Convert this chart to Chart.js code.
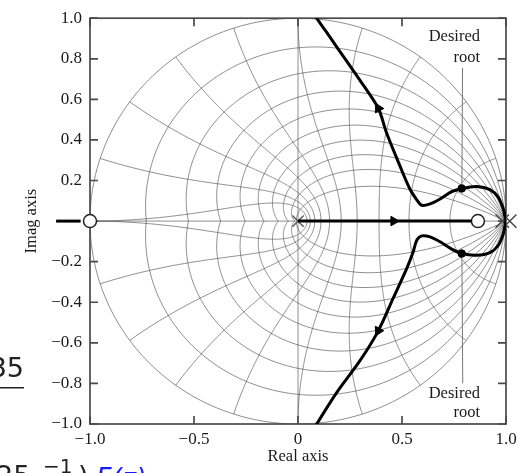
<!DOCTYPE html>
<html>
<head>
<meta charset="utf-8">
<script src="https://cdn.jsdelivr.net/npm/chart.js@4/dist/chart.umd.min.js"></script>
<style>
html,body{margin:0;padding:0;background:#fff;}
#wrap{width:522px;height:473px;position:relative;}
</style>
</head>
<body>
<div id="wrap"><canvas id="c" width="522" height="473"></canvas></div>
<script>
// ---- tick labels ----
const xTickValues = [-1, -0.5, 0, 0.5, 1];
const xTickLabels = ['\u22121.0', '\u22120.5', '0', '0.5', '1.0'];
const yTickValues = [-1, -0.8, -0.6, -0.4, -0.2, 0, 0.2, 0.4, 0.6, 0.8, 1];
const yTickLabels = ['\u22121.0', '\u22120.8', '\u22120.6', '\u22120.4', '\u22120.2', '', '0.2', '0.4', '0.6', '0.8', '1.0'];

// ---- z-plane grid parameters (damping ratios, natural frequency * T / pi) ----
const gridZeta = [0.1, 0.2, 0.3, 0.4, 0.5, 0.6, 0.7, 0.8, 0.9];
const gridWnTOverPi = [0.1, 0.2, 0.3, 0.4, 0.5, 0.6, 0.7, 0.8, 0.9, 1.0];

// ---- root locus branches ----
const upperX = [1.0, 0.987, 0.963, 0.923, 0.859, 0.787, 0.739, 0.683, 0.635, 0.595, 0.571, 0.538, 0.490, 0.426, 0.386, 0.298, 0.186, 0.138, 0.09, 0.075];
const upperY = [0.0, 0.060, 0.117, 0.155, 0.171, 0.161, 0.145, 0.109, 0.085, 0.078, 0.105, 0.158, 0.272, 0.434, 0.556, 0.694, 0.859, 0.930, 1.0, 1.03];
const lowerX = [1.0, 0.987, 0.963, 0.923, 0.859, 0.787, 0.739, 0.683, 0.635, 0.595, 0.571, 0.554, 0.523, 0.458, 0.386, 0.298, 0.186, 0.09, 0.075];
const lowerY = [0.0, -0.062, -0.119, -0.155, -0.168, -0.160, -0.138, -0.102, -0.078, -0.073, -0.094, -0.151, -0.233, -0.379, -0.541, -0.688, -0.845, -1.0, -1.03];
const realBranchX = [0, 0.835];
const realBranchY = [0, 0];
const leftBranchX = [-1.163, -1.045];
const leftBranchY = [0, 0];

// ---- poles, zeros, desired roots ----
const polesX = [0];
const polesY = [0];
const doublePoleX = [0.982, 1.018];
const doublePoleY = [0, 0];
const zerosX = [-1, 0.865];
const zerosY = [0, 0];
const desiredX = [0.787, 0.787];
const desiredY = [0.161, -0.160];

// ---- direction arrows on the locus ----
const arrowX = [0.386, 0.386, 0.46, -1.045];
const arrowY = [0.556, -0.541, 0, 0];
const arrowRot = [-27, 207, 90, 90];

// ---- annotation leader lines and labels ----
const leaderUpX = [0.791, 0.788];
const leaderUpY = [0.755, 0.185];
const leaderLowX = [0.788, 0.792];
const leaderLowY = [-0.185, -0.800];
const annotText = ['Desired', 'root', 'Desired', 'root'];
const annotX = [0.875, 0.875, 0.875, 0.875];
const annotY = [0.907, 0.805, -0.849, -0.946];

const pts = (xs, ys) => xs.map((x, i) => ({x: x, y: ys[i]}));
const SERIF = '"Liberation Serif", "Times New Roman", serif';

const gridPlugin = {
  id: 'zgrid',
  beforeDatasetsDraw(chart) {
    const ctx = chart.ctx, xs = chart.scales.x, ys = chart.scales.y, a = chart.chartArea;
    const px = v => xs.getPixelForValue(v), py = v => ys.getPixelForValue(v);
    ctx.save();
    ctx.beginPath();
    ctx.rect(a.left, a.top, a.right - a.left, a.bottom - a.top);
    ctx.clip();
    ctx.strokeStyle = 'rgba(80,80,80,0.72)';
    ctx.lineWidth = 0.9;
    const path = (arr) => {
      ctx.beginPath();
      arr.forEach((p, i) => i ? ctx.lineTo(px(p[0]), py(p[1])) : ctx.moveTo(px(p[0]), py(p[1])));
      ctx.stroke();
    };
    // unit circle
    const circ = [];
    for (let k = 0; k <= 360; k++) { const t = k * Math.PI / 180; circ.push([Math.cos(t), Math.sin(t)]); }
    path(circ);
    // constant damping curves
    gridZeta.forEach(z => {
      [1, -1].forEach(s => {
        const c = [];
        for (let k = 0; k <= 200; k++) {
          const th = Math.PI * k / 200;
          const r = Math.exp(-z * th / Math.sqrt(1 - z * z));
          c.push([r * Math.cos(th), s * r * Math.sin(th)]);
        }
        path(c);
      });
    });
    // constant natural frequency curves
    gridWnTOverPi.forEach(w0 => {
      const w = w0 * Math.PI;
      [1, -1].forEach(s => {
        const c = [];
        for (let k = 0; k <= 200; k++) {
          const z = k / 200;
          const r = Math.exp(-z * w);
          const ph = w * Math.sqrt(1 - z * z);
          c.push([r * Math.cos(ph), s * r * Math.sin(ph)]);
        }
        path(c);
      });
    });
    // axes lines
    path([[0, -1], [0, 1]]);
    path([[-1, 0], [1, 0]]);
    ctx.restore();

    // frame and inward ticks
    ctx.save();
    ctx.strokeStyle = '#4a4a4a';
    ctx.lineWidth = 1.7;
    ctx.strokeRect(a.left, a.top, a.right - a.left, a.bottom - a.top);
    ctx.beginPath();
    yTickValues.forEach(v => {
      const y = py(v);
      ctx.moveTo(a.left, y); ctx.lineTo(a.left + 8, y);
      ctx.moveTo(a.right, y); ctx.lineTo(a.right - 8, y);
    });
    xTickValues.forEach(v => {
      const x = px(v);
      ctx.moveTo(x, a.bottom); ctx.lineTo(x, a.bottom - 8);
      ctx.moveTo(x, a.top); ctx.lineTo(x, a.top + 8);
    });
    ctx.stroke();
    ctx.restore();
  },
  afterDraw(chart) {
    const ctx = chart.ctx, xs = chart.scales.x, ys = chart.scales.y;
    ctx.save();
    ctx.fillStyle = '#1a1a1a';
    ctx.font = '16.5px ' + SERIF;
    ctx.textAlign = 'right';
    ctx.textBaseline = 'middle';
    annotText.forEach((t, i) => ctx.fillText(t, xs.getPixelForValue(annotX[i]), ys.getPixelForValue(annotY[i])));
    // fragments of the surrounding page
    ctx.font = '27px "DejaVu Sans", sans-serif';
    ctx.textAlign = 'right';
    ctx.textBaseline = 'alphabetic';
    ctx.fillStyle = '#222';
    ctx.fillText('35', 24, 377);
    ctx.fillRect(0, 387, 24, 1.5);
    ctx.textAlign = 'left';
    ctx.fillText('25', -4, 485);
    ctx.font = '20px "DejaVu Sans", sans-serif';
    ctx.fillText('\u22121', 43, 473);
    ctx.font = '27px "DejaVu Sans", sans-serif';
    ctx.fillText(')', 78, 485);
    ctx.fillStyle = '#1a1aff';
    ctx.font = 'italic 27px "DejaVu Sans", sans-serif';
    ctx.fillText('F(z)', 96, 487);
    ctx.restore();
  }
};

const locusStyle = {showLine: true, borderColor: '#000', borderWidth: 3, pointRadius: 0, tension: 0.3, fill: false};

new Chart(document.getElementById('c'), {
  type: 'scatter',
  data: {
    datasets: [
      Object.assign({label: 'upper', data: pts(upperX, upperY)}, locusStyle),
      Object.assign({label: 'lower', data: pts(lowerX, lowerY)}, locusStyle),
      Object.assign({label: 'real', data: pts(realBranchX, realBranchY)}, locusStyle, {tension: 0}),
      Object.assign({label: 'left', data: pts(leftBranchX, leftBranchY), clip: false}, locusStyle, {tension: 0}),
      {label: 'leaderUp', data: pts(leaderUpX, leaderUpY), showLine: true, borderColor: '#777', borderWidth: 1, pointRadius: 0},
      {label: 'leaderLow', data: pts(leaderLowX, leaderLowY), showLine: true, borderColor: '#777', borderWidth: 1, pointRadius: 0},
      {label: 'arrows', data: pts(arrowX, arrowY), pointStyle: 'triangle', pointRotation: arrowRot, pointRadius: 5.5,
        backgroundColor: '#000', borderColor: '#000', borderWidth: 1, clip: false},
      {label: 'poles', data: pts(polesX, polesY), pointStyle: 'crossRot', pointRadius: 8, borderColor: '#555', borderWidth: 1.3},
      {label: 'double pole', data: pts(doublePoleX, doublePoleY), pointStyle: 'crossRot', pointRadius: 9.5, borderColor: '#444', borderWidth: 1.4, clip: false},
      {label: 'zeros', data: pts(zerosX, zerosY), pointStyle: 'circle', pointRadius: 6.5, backgroundColor: '#fff', borderColor: '#222', borderWidth: 1.5, clip: false},
      {label: 'desired', data: pts(desiredX, desiredY), pointStyle: 'circle', pointRadius: 3.8, backgroundColor: '#000', borderColor: '#000', borderWidth: 1}
    ]
  },
  options: {
    responsive: false,
    animation: false,
    devicePixelRatio: 1,
    layout: {padding: {left: 0, right: 16, top: 14, bottom: 0}},
    plugins: {legend: {display: false}, tooltip: {enabled: false}},
    scales: {
      x: {
        type: 'linear', min: -1, max: 1,
        afterBuildTicks: s => { s.ticks = xTickValues.map(v => ({value: v})); },
        afterFit: s => { s.height = 49; },
        ticks: {callback: (v) => xTickLabels[xTickValues.indexOf(v)], font: {family: SERIF, size: 17}, color: '#1a1a1a', padding: 5, maxRotation: 0, autoSkip: false},
        grid: {display: false, drawTicks: false},
        border: {display: false},
        title: {display: true, text: 'Real axis', font: {family: SERIF, size: 16.5}, color: '#1a1a1a', padding: {top: 0, bottom: 6}}
      },
      y: {
        type: 'linear', min: -1, max: 1,
        afterBuildTicks: s => { s.ticks = yTickValues.map(v => ({value: v})); },
        afterFit: s => { s.width = 90; },
        ticks: {callback: (v) => { const i = yTickValues.findIndex(t => Math.abs(t - v) < 1e-9); return i >= 0 ? yTickLabels[i] : ''; }, font: {family: SERIF, size: 17}, color: '#1a1a1a', padding: 8, autoSkip: false},
        grid: {display: false, drawTicks: false},
        border: {display: false},
        title: {display: true, text: 'Imag axis', font: {family: SERIF, size: 16.5}, color: '#1a1a1a', padding: {top: 22, bottom: 0}}
      }
    }
  },
  plugins: [gridPlugin]
});
</script>
</body>
</html>
